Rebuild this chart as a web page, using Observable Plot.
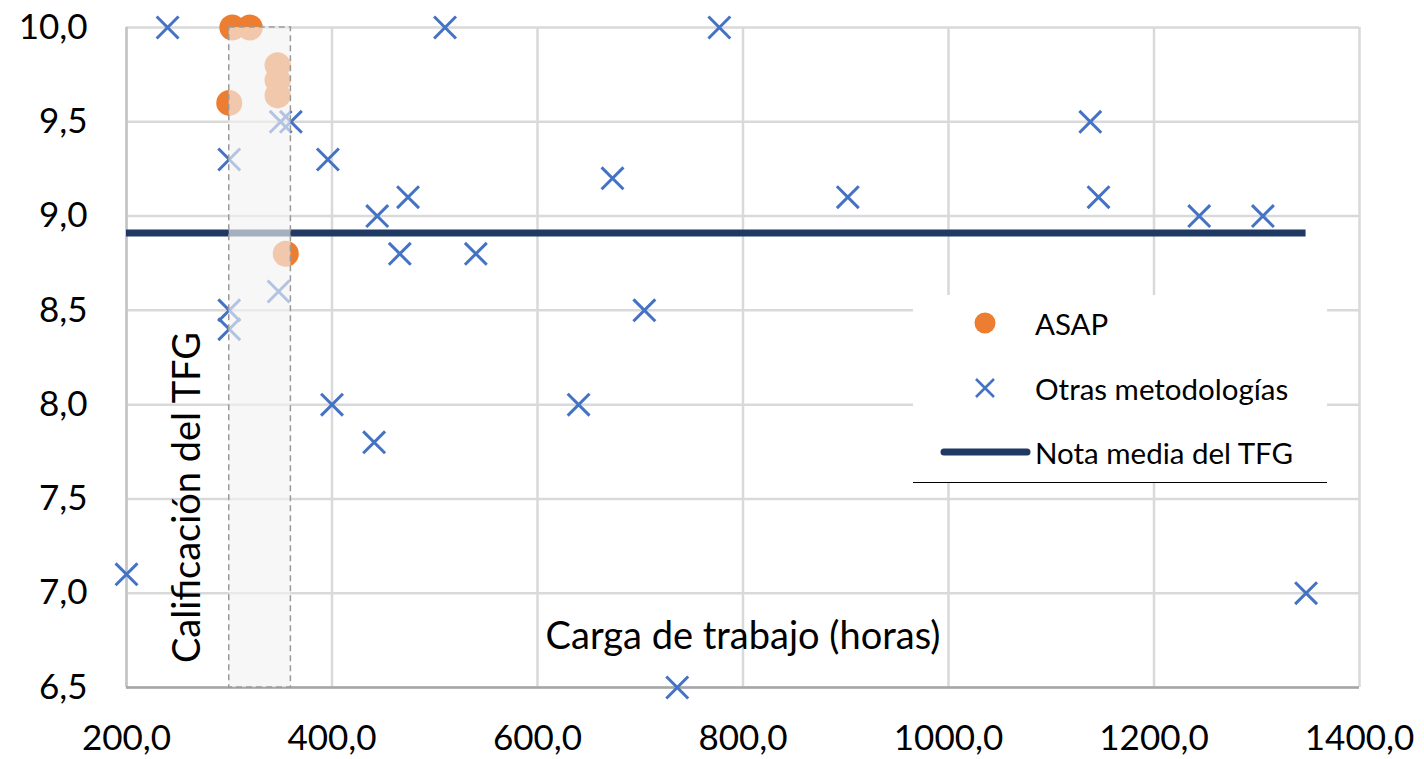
<!DOCTYPE html>
<html>
<head>
<meta charset="utf-8">
<script src="https://cdn.jsdelivr.net/npm/d3@7"></script>
<script src="https://cdn.jsdelivr.net/npm/@observablehq/plot@0.6"></script>
<style>
  html, body { margin: 0; padding: 0; background: #fff; }
  #chart { position: relative; width: 1424px; height: 759px; font-family: Lato, sans-serif; }
  #chart svg.plot { position: absolute; left: 0; top: 0; }
  #legend { position: absolute; left: 913px; top: 295px; width: 414px; height: 187px;
            background: #fff; border-bottom: 1.5px solid #000; }
  .lg-row { position: absolute; left: 0; height: 40px; display: flex; align-items: center; }
  .lg-row svg { width: 122px; height: 40px; flex: none; }
  .lg-row span { font-size: 29.5px; color: #000; white-space: nowrap; }
</style>
</head>
<body>
<div id="chart"></div>
<script>
// ---- data ----
const asapHours   = [303, 320, 300, 347, 347, 347, 355];
const asapGrades  = [10.0, 10.0, 9.6, 9.8, 9.72, 9.64, 8.8];

const otherHours  = [240, 200, 300, 300, 300, 350, 360, 348, 396, 444, 474, 466, 400, 441,
                     510, 540, 640, 673, 704, 736, 777, 902, 1138, 1146, 1244, 1306, 1348];
const otherGrades = [10.0, 7.1, 9.3, 8.5, 8.4, 9.5, 9.5, 8.6, 9.3, 9.0, 9.1, 8.8, 8.0, 7.8,
                     10.0, 8.8, 8.0, 9.2, 8.5, 6.5, 10.0, 9.1, 9.5, 9.1, 9.0, 9.0, 7.0];

const meanGrade   = 8.91;
const bandHours   = [300, 360];
const gradeRange  = [6.5, 10.0];
const hourRange   = [200, 1400];

const xTicks = [200, 400, 600, 800, 1000, 1200, 1400];
const yTicks = [6.5, 7.0, 7.5, 8.0, 8.5, 9.0, 9.5, 10.0];

const xTitle = "Carga de trabajo (horas)";
const yTitle = "Calificación del TFG";
const legendLabels = ["ASAP", "Otras metodologías", "Nota media del TFG"];

// ---- build ----
const colors = { asap: "#ED7D31", other: "#4472C4", mean: "#1F3864", grid: "#d9d9d9" };
const fmt = d => d3.format(".1f")(d).replace(".", ",");
const asap  = asapHours.map((h, i) => ({ h, g: asapGrades[i] }));
const other = otherHours.map((h, i) => ({ h, g: otherGrades[i] }));
const allHours = asapHours.concat(otherHours);

const chart = Plot.plot({
  width: 1424, height: 759,
  marginLeft: 126, marginRight: 65, marginTop: 27, marginBottom: 72,
  style: { fontFamily: "Lato, sans-serif", fontSize: "35px", color: "#000", background: "transparent", overflow: "visible" },
  x: { domain: hourRange },
  y: { domain: gradeRange },
  marks: [
    Plot.gridX(xTicks, { stroke: colors.grid, strokeOpacity: 1, strokeWidth: 2.5 }),
    Plot.gridY(yTicks, { stroke: colors.grid, strokeOpacity: 1, strokeWidth: 2.5 }),
    Plot.ruleX([hourRange[0]], { stroke: "#c4c4c4", strokeWidth: 2.5 }),
    Plot.ruleY([gradeRange[0]], { stroke: "#a6a6a6", strokeWidth: 2.5 }),
    Plot.axisX(xTicks, { tickSize: 0, tickPadding: 38, tickFormat: fmt, label: null, fontSize: 35 }),
    Plot.axisY(yTicks, { tickSize: 0, tickPadding: 39, tickFormat: fmt, label: null, fontSize: 35 }),
    Plot.text([xTitle], { text: d => d, frameAnchor: "bottom", dy: -51, textAnchor: "middle", lineAnchor: "middle", fontSize: 38, fill: "#000" }),
    Plot.text([yTitle], { text: d => d, frameAnchor: "left", dx: 61, dy: 140, rotate: -90, textAnchor: "middle", lineAnchor: "middle", fontSize: 38, fill: "#000" }),
    Plot.dot(asap, { x: "h", y: "g", r: 13, fill: colors.asap }),
    Plot.dot(other, { x: "h", y: "g", r: 10, symbol: "times", stroke: colors.other, strokeWidth: 3 }),
    Plot.ruleY([meanGrade], { x1: d3.min(allHours), x2: d3.max(allHours), stroke: colors.mean, strokeWidth: 7 }),
    Plot.rect([bandHours], { x1: d => d[0], x2: d => d[1], y1: gradeRange[0], y2: gradeRange[1],
      fill: "#f2f2f2", fillOpacity: 0.64, stroke: "#9a9a9a", strokeWidth: 1.5, strokeDasharray: "6,4" })
  ]
});
chart.classList.add("plot");
const root = document.getElementById("chart");
root.appendChild(chart);

// ---- legend (inside the plot area, as in the reference) ----
const legend = document.createElement("div");
legend.id = "legend";
const rowCenters = [28, 93, 157];
const symbols = [
  `<circle cx="72" cy="20" r="10.5" fill="${colors.asap}"/>`,
  `<path d="M63,11L81,29M63,29L81,11" stroke="${colors.other}" stroke-width="2.6" fill="none"/>`,
  `<line x1="31" y1="20" x2="114" y2="20" stroke="${colors.mean}" stroke-width="7" stroke-linecap="round"/>`
];
legendLabels.forEach((label, i) => {
  const row = document.createElement("div");
  row.className = "lg-row";
  row.style.top = (rowCenters[i] - 20) + "px";
  row.innerHTML = `<svg viewBox="0 0 122 40">${symbols[i]}</svg>`;
  const span = document.createElement("span");
  span.textContent = label;
  row.appendChild(span);
  legend.appendChild(row);
});
root.appendChild(legend);
</script>
</body>
</html>
